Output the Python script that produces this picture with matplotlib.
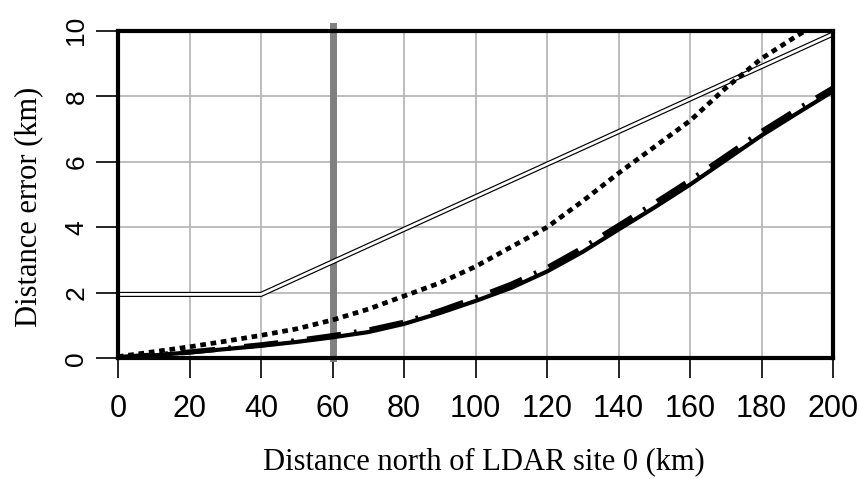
import matplotlib
matplotlib.use("Agg")
import matplotlib.pyplot as plt

# distance north of site 0 (km)
dist = [0, 10, 20, 30, 40, 50, 60, 70, 80, 90, 100,
        110, 120, 130, 140, 150, 160, 170, 180, 190, 200]

# distance error curves (km)
err_dotted = [0.05, 0.2, 0.35, 0.52, 0.7, 0.9, 1.17, 1.5, 1.9, 2.3, 2.8,
              3.4, 4.0, 4.8, 5.65, 6.45, 7.25, 8.25, 9.15, 9.85, 10.5]
err_solid = [0.02, 0.09, 0.18, 0.28, 0.38, 0.5, 0.64, 0.8, 1.05, 1.38, 1.75,
             2.15, 2.65, 3.25, 3.93, 4.6, 5.3, 6.05, 6.8, 7.48, 8.15]
err_dashed = [0.02, 0.1, 0.19, 0.3, 0.41, 0.54, 0.69, 0.86, 1.1, 1.45, 1.84,
              2.26, 2.76, 3.37, 4.05, 4.73, 5.43, 6.17, 6.92, 7.6, 8.25]

# double line: constant then linear
dist_double = [0, 40, 200]
err_double = [1.95, 1.95, 9.9]

marker_x = 60

xticks = [0, 20, 40, 60, 80, 100, 120, 140, 160, 180, 200]
yticks = [0, 2, 4, 6, 8, 10]

fig = plt.figure(figsize=(8.59, 4.79), dpi=100)
ax = fig.add_axes([118 / 859, 1 - 358.3 / 479, 715 / 859, 327.6 / 479])

ax.grid(True, color="#b3b3b3", lw=1.2, zorder=0)
ax.set_axisbelow(True)

ax.axvline(marker_x, ymin=0, ymax=1.015, color="#808080", lw=5, zorder=1, clip_on=False)

ax.plot(dist_double, err_double, color="black", lw=3.7, solid_capstyle="butt", zorder=2)
ax.plot(dist_double, err_double, color="white", lw=2.0, solid_capstyle="butt", zorder=2.1)

ax.plot(dist, err_dotted, color="black", lw=3.4, dashes=(1.2, 1.0), zorder=2.2)
ax.plot(dist, err_solid, color="black", lw=3, zorder=2.2)
ax.plot(dist, err_dashed, color="black", lw=3.8, dashes=(6.5, 2.5, 0.5, 2.5), zorder=2.3)

ax.set_xlim(0, 200)
ax.set_ylim(0, 10)
ax.set_xticks(xticks)
ax.set_yticks(yticks)

for s in ax.spines.values():
    s.set_linewidth(3)
    s.set_zorder(3)

ax.tick_params(axis="x", length=14.4, width=1.2, pad=11, labelsize=22)
ax.tick_params(axis="y", length=15.8, width=1.2, pad=5.5, labelsize=19, labelrotation=90)
for lab in ax.get_xticklabels() + ax.get_yticklabels():
    lab.set_family("Liberation Sans")
for lab in ax.get_yticklabels():
    lab.set_va("center")

ax.set_xlabel("Distance north of LDAR site 0 (km)", family="Liberation Serif", fontsize=22)
ax.set_ylabel("Distance error (km)", family="Liberation Serif", fontsize=22)
ax.xaxis.set_label_coords(0.512, -0.272)
ax.yaxis.set_label_coords(-0.105, 0.463)

fig.savefig("out.png", dpi=100)
